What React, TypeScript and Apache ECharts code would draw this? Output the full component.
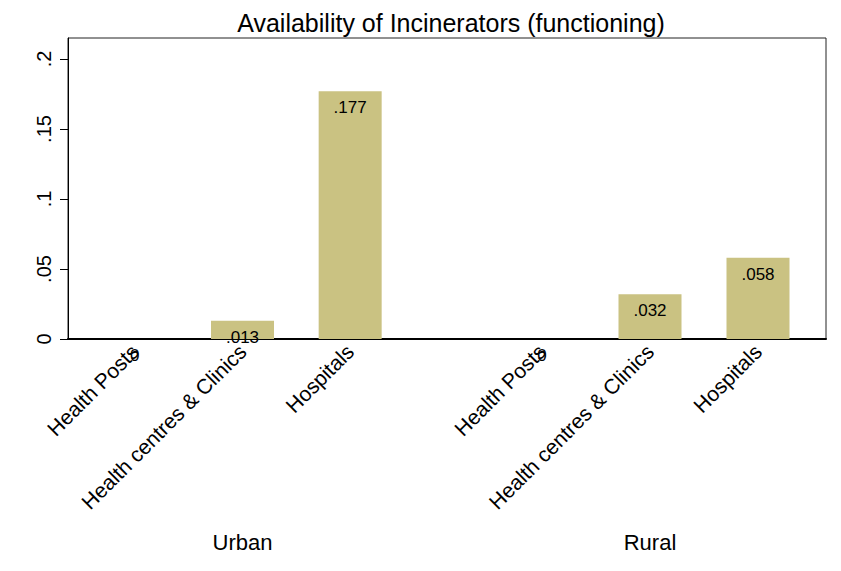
import React, { useEffect, useRef } from "react";
import * as echarts from "echarts";

const categories = ["Health Posts", "Health centres & Clinics", "Hospitals"];
const groups = ["Urban", "Rural"];
const urbanValues = [0, 0.013, 0.177];
const ruralValues = [0, 0.032, 0.058];
const yTicks = [0, 0.05, 0.1, 0.15, 0.2];
const titleText = "Availability of Incinerators (functioning)";

const fmt = (v: number) => (v === 0 ? "0" : String(v).replace(/^0\./, "."));

export default function App() {
  const ref = useRef<HTMLDivElement>(null);
  useEffect(() => {
    if (!ref.current) return;
    const chart = echarts.init(ref.current, undefined, { renderer: "svg" });
    const yMax = 0.215;
    const barColor = "#cac282";
    const subX = (gridIndex: number, name: string) => ({
      type: "category",
      gridIndex,
      data: categories,
      axisLine: { show: false },
      axisTick: { show: false },
      axisLabel: { rotate: 45, interval: 0, fontSize: 21, color: "#000", margin: 9 },
      name,
      nameLocation: "middle",
      nameGap: 192,
      nameTextStyle: { fontSize: 22, color: "#000" },
    });
    const subY = (gridIndex: number) => ({
      type: "value",
      gridIndex,
      min: 0,
      max: yMax,
      show: false,
      splitLine: { show: false },
    });
    const barSeries = (idx: number, data: number[]) => ({
      type: "bar",
      xAxisIndex: idx,
      yAxisIndex: idx,
      data,
      barWidth: 63,
      itemStyle: { color: barColor },
      label: {
        show: true,
        position: "insideTop",
        distance: 8,
        fontSize: 17,
        color: "#000",
        formatter: (p: any) => fmt(p.value),
      },
    });
    chart.setOption({
      animation: false,
      textStyle: { fontFamily: "Liberation Sans, Arial, sans-serif" },
      title: {
        text: titleText,
        left: 446,
        top: 5,
        textAlign: "center",
        textStyle: { fontSize: 25, fontWeight: "normal", color: "#000" },
      },
      grid: [
        { left: 68, right: 15, top: 38, bottom: 232, show: true, borderColor: "#222", borderWidth: 1 },
        { left: 81, right: 437, top: 38, bottom: 232 },
        { left: 488, right: 29, top: 38, bottom: 232 },
      ],
      xAxis: [
        {
          type: "value",
          gridIndex: 0,
          min: 0,
          max: 1,
          axisLine: { show: true, lineStyle: { color: "#000", width: 2 } },
          axisTick: { show: false },
          axisLabel: { show: false },
          splitLine: { show: false },
        },
        subX(1, groups[0]),
        subX(2, groups[1]),
      ],
      yAxis: [
        {
          type: "value",
          gridIndex: 0,
          min: 0,
          max: yMax,
          axisLine: { show: true, lineStyle: { color: "#000", width: 1 } },
          axisTick: { show: true, length: 8, lineStyle: { color: "#000" }, customValues: yTicks },
          axisLabel: {
            customValues: yTicks,
            rotate: 90,
            fontSize: 20,
            color: "#000",
            margin: 14,
            formatter: (v: number) => fmt(v),
          },
          splitLine: { show: false },
        },
        subY(1),
        subY(2),
      ],
      series: [barSeries(1, urbanValues), barSeries(2, ruralValues)],
    });
    return () => chart.dispose();
  }, []);
  return (
    <div
      ref={ref}
      style={{ position: "fixed", left: 0, top: 0, width: 841, height: 571, background: "#fff" }}
    />
  );
}
